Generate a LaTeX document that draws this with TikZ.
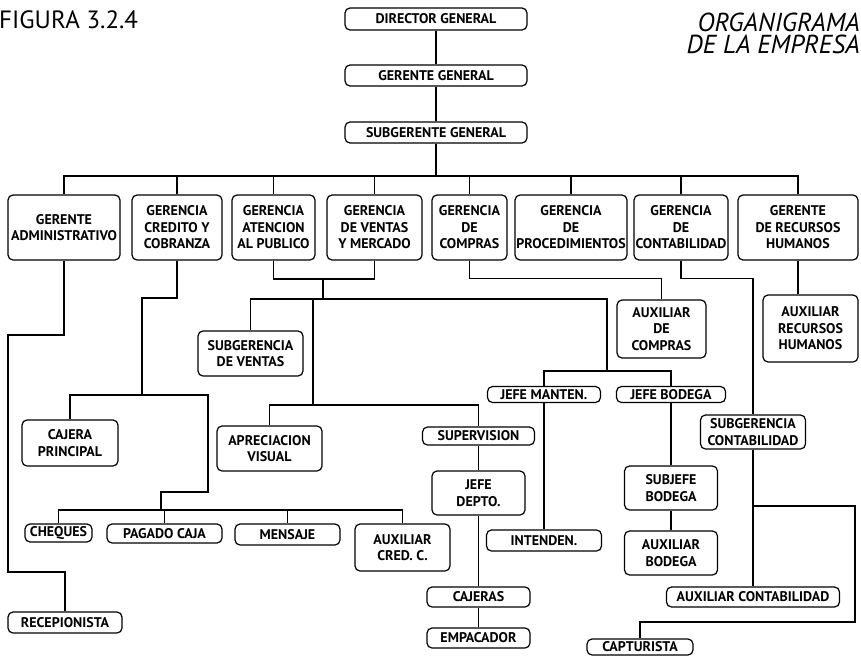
\documentclass[tikz,border=0pt]{standalone}
\usepackage{fontspec}
\setmainfont{PT Sans}
\usetikzlibrary{positioning}
\tikzset{
  box/.style={draw=black, rounded corners=5pt, line width=1.2pt, fill=white, align=center, inner sep=1pt, font=\bfseries\fontsize{14}{16.5}\selectfont},
  bx/.style 2 args={box, minimum width=#1pt, minimum height=#2pt},
  titletext/.style={inner sep=0pt, font=\itshape\fontsize{26}{26}\selectfont},
  link/.style={line width=1.1pt, draw=black}
}

\begin{document}
\begin{tikzpicture}[x=1pt,y=-1pt]
\useasboundingbox (0,0) rectangle (861,656);
\fill[white] (0,0) rectangle (861,656);
\node[anchor=west, inner sep=0pt, font=\fontsize{25}{26}\selectfont] (fig) at (-1,20) {FIGURA 3.2.4};
\node[titletext, anchor=north east] (title1) at (860,13) {ORGANIGRAMA};
\node[titletext, below=3pt of title1.south east, anchor=north east] (title2) {DE LA EMPRESA};
\node[bx={182}{22}] (dg) at (436,19) {DIRECTOR GENERAL};
\node[bx={182}{21}] (gg) at (436,75.5) {GERENTE GENERAL};
\node[bx={182}{21}] (sg) at (436,132.5) {SUBGERENTE GENERAL};
\node[bx={112}{65}] (gadm) at (64,227.5) {GERENTE\\ADMINISTRATIVO};
\node[bx={90}{65}] (gcred) at (177,227.5) {GERENCIA\\CREDITO Y\\COBRANZA};
\node[bx={83}{65}] (gaten) at (273.5,227.5) {GERENCIA\\ATENCION\\AL PUBLICO};
\node[bx={95}{65}] (gvent) at (374.5,227.5) {GERENCIA\\DE VENTAS\\Y MERCADO};
\node[bx={75}{65}] (gcomp) at (469.5,227.5) {GERENCIA\\DE\\COMPRAS};
\node[bx={112}{65}] (gproc) at (571,227.5) {GERENCIA\\DE\\PROCEDIMIENTOS};
\node[bx={94}{65}] (gcont) at (681,227.5) {GERENCIA\\DE\\CONTABILIDAD};
\node[bx={120}{65}] (grh) at (798,227.5) {GERENTE\\DE RECURSOS\\HUMANOS};
\node[bx={89}{58}] (auxcomp) at (661.5,329) {AUXILIAR\\DE\\COMPRAS};
\node[bx={95}{67}] (auxrh) at (810.5,328.5) {AUXILIAR\\RECURSOS\\HUMANOS};
\node[bx={105}{45}] (subv) at (250.5,353.5) {SUBGERENCIA\\DE VENTAS};
\node[bx={113}{16}] (jman) at (544,394.5) {JEFE MANTEN.};
\node[bx={109}{16}] (jbod) at (671,394.5) {JEFE BODEGA};
\node[bx={105}{34}] (subcont) at (753,432) {SUBGERENCIA\\CONTABILIDAD};
\node[bx={96}{46}] (cajp) at (70,443) {CAJERA\\PRINCIPAL};
\node[bx={105}{45}] (apv) at (269.5,448.5) {APRECIACION\\VISUAL};
\node[bx={112}{18}] (sup) at (478.5,436) {SUPERVISION};
\node[bx={93}{44}] (jdep) at (478.5,493) {JEFE\\DEPTO.};
\node[bx={93}{44}] (subjb) at (671,488) {SUBJEFE\\BODEGA};
\node[bx={67}{18}] (cheq) at (58.5,533) {CHEQUES};
\node[bx={115}{19}] (pagado) at (164.5,533.5) {PAGADO CAJA};
\node[bx={105}{21}] (mens) at (287.5,534.5) {MENSAJE};
\node[bx={95}{47}] (auxcred) at (402.5,547.5) {AUXILIAR\\CRED. C.};
\node[bx={115}{21}] (inten) at (544,540.5) {INTENDEN.};
\node[bx={93}{44}] (auxbod) at (671,553) {AUXILIAR\\BODEGA};
\node[bx={114}{21}] (recep) at (65,622.5) {RECEPIONISTA};
\node[bx={103}{20}] (cajeras) at (478.5,597) {CAJERAS};
\node[bx={103}{20}] (empac) at (478.5,638) {EMPACADOR};
\node[bx={173}{20}] (auxcont) at (753,597) {AUXILIAR CONTABILIDAD};
\node[bx={106}{16}] (capt) at (640,647) {CAPTURISTA};
\coordinate (bus) at (0,176);
\coordinate (ad1) at (8,335);
\coordinate (ad2) at (8,572);
\coordinate (cr1) at (142,298);
\coordinate (cr2) at (142,395);
\coordinate (cr3) at (208,492);
\coordinate (cr4) at (161,510);
\coordinate (ve1) at (323,279);
\coordinate (ve2) at (323,299);
\coordinate (ve3) at (313,405);
\coordinate (ve4) at (607,371);
\coordinate (co0) at (0,506);
\coordinate (co1) at (855,622);
\draw[link] (dg) -- (gg);
\draw[link] (gg) -- (sg);
\draw[link] (sg.south) -- (sg.south |- bus);
\foreach \n in {gadm,gcred,gaten,gvent,gcomp,gproc,gcont,grh}{\draw[link] (sg.south |- bus) -| (\n.north);}
\draw[link] (gadm.south) |- (ad1) -- (ad2) -| (recep.north);
\draw[link] (gcred.south) |- (cr1) -- (cr2);
\draw[link] (cajp.north) |- (cr2) -| (cr3) -| (cr4);
\foreach \n in {cheq,pagado,mens,auxcred}{\draw[link] (cr4) -| (\n.north);}
\draw[link] (gaten.south) |- (ve1) -| (gvent.south);
\draw[link] (ve1) -- (ve2) -| (subv.north);
\draw[link] (ve2) -| (ve3);
\draw[link] (ve2) -| (ve4);
\foreach \n in {apv,sup}{\draw[link] (ve3) -| (\n.north);}
\foreach \n in {jman,jbod}{\draw[link] (ve4) -| (\n.north);}
\draw[link] (sup) -- (jdep);
\draw[link] (jdep) -- (cajeras);
\draw[link] (cajeras) -- (empac);
\draw[link] (jman) -- (inten);
\draw[link] (jbod) -- (subjb);
\draw[link] (subjb) -- (auxbod);
\draw[link] (gcomp.south) -- ++(0,18) -| (auxcomp.north);
\draw[link] (gcont.south) -- ++(0,18) -| (subcont.north);
\draw[link] (subcont) -- (auxcont);
\draw[link] (subcont.south |- co0) -| (co1) -| (capt.north);
\draw[link] (grh.south) -- (grh.south |- auxrh.north);
\end{tikzpicture}
\end{document}
